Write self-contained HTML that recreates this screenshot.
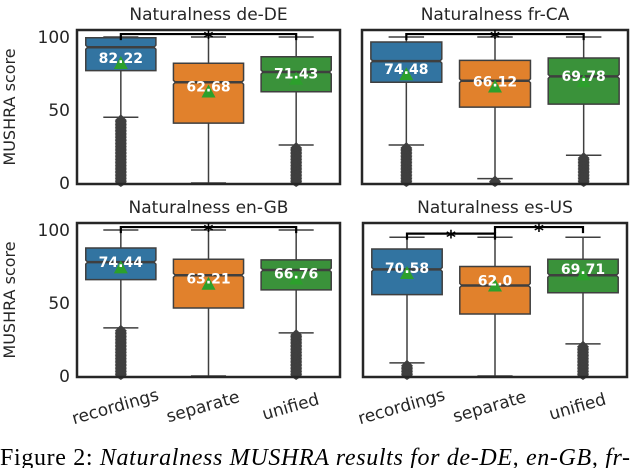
<!DOCTYPE html>
<html><head><meta charset="utf-8"><style>
html,body{margin:0;padding:0;background:#fff;width:630px;height:468px;overflow:hidden}
svg{display:block;font-family:"DejaVu Sans","Liberation Sans",sans-serif}
svg text.cap{font-family:"Liberation Serif","Times New Roman",serif}
</style></head><body>
<svg id="chart" width="630" height="468" viewBox="0 0 630 468"></svg>
<script>
const categories = ["recordings","separate","unified"];
const panelTitles = ["Naturalness de-DE","Naturalness fr-CA","Naturalness en-GB","Naturalness es-US"];
const yTicks = [0,50,100];
const q1Values = [[77,41,62.5],[69,52,54],[66,46.6,59],[55.7,42.5,57]];
const q3Values = [[99.5,82,86.5],[96.6,84,85.6],[87.7,80,79.5],[87,75,80]];
const medianValues = [[93,69,76],[83.5,70,73],[78,69,72.6],[73,62,69]];
const whiskerLow = [[45,0,26],[26,3,19],[33,0,29.5],[9,0,22]];
const whiskerHigh = [[100,100,100],[100,100,100],[100,100,100],[95,95,95]];
const meanValues = [[82.22,62.68,71.43],[74.48,66.12,69.78],[74.44,63.21,66.76],[70.58,62.0,69.71]];
const meanLabels = [["82.22","62.68","71.43"],["74.48","66.12","69.78"],["74.44","63.21","66.76"],["70.58","62.0","69.71"]];
const sigPanels = [0,1,2,3,3];
const sigFrom = [0,0,0,0,1];
const sigTo = [2,2,2,1,2];
const sigY = [102,102,102,97.5,102];

const colors = ["#3274a1","#e1812c","#3a923a"];
const frames = [{x0:77,x1:340,top:30,bot:184,y0:183,y100:37},
                {x0:362,x1:628,top:30,bot:184,y0:183,y100:37},
                {x0:77,x1:340,top:223,bot:377,y0:376,y100:230},
                {x0:363,x1:627,top:223,bot:377,y0:376,y100:230}];
const NS="http://www.w3.org/2000/svg";
const svg=document.getElementById('chart');
function mk(tag,attrs,parent){const e=document.createElementNS(NS,tag);for(const k in attrs)e.setAttribute(k,attrs[k]);(parent||svg).appendChild(e);return e;}

frames.forEach((f,p)=>{
  const g=mk('g',{});
  
  
  const ys=v=>f.y0-(f.y0-f.y100)*v/100;
  const step=(f.x1-f.x0)/categories.length;
  const xs=i=>f.x0+step*(i+0.5);
  const hw=step*0.4;
  const t=mk('text',{x:(f.x0+f.x1)/2,y:f.top-10,'text-anchor':'middle','font-size':17,fill:'#262626'},g);
  t.textContent=panelTitles[p];
  
  
  categories.forEach((c,i)=>{
    const cx=xs(i);
    mk('line',{x1:cx,x2:cx,y1:ys(q3Values[p][i]),y2:ys(whiskerHigh[p][i]),stroke:'#3f3f3f','stroke-width':1.5},g);
    mk('line',{x1:cx,x2:cx,y1:ys(q1Values[p][i]),y2:ys(whiskerLow[p][i]),stroke:'#3f3f3f','stroke-width':1.5},g);
    mk('line',{x1:cx-hw/2,x2:cx+hw/2,y1:ys(whiskerHigh[p][i]),y2:ys(whiskerHigh[p][i]),stroke:'#3f3f3f','stroke-width':1.5},g);
    mk('line',{x1:cx-hw/2,x2:cx+hw/2,y1:ys(whiskerLow[p][i]),y2:ys(whiskerLow[p][i]),stroke:'#3f3f3f','stroke-width':1.5},g);
    for(let v=0; v<whiskerLow[p][i]-1; v+=1){
      const yy=ys(v);
      mk('polygon',{points:`${cx},${yy-6} ${cx+6},${yy} ${cx},${yy+4} ${cx-6},${yy}`,fill:'#3f3f3f'},g);
    }
    const a=ys(q1Values[p][i]),b=ys(q3Values[p][i]),m=ys(medianValues[p][i]);
    const n=2,ind=2;
    const box=mk('polygon',{points:`${cx-hw},${a} ${cx-hw},${m+n} ${cx-hw+ind},${m} ${cx-hw},${m-n} ${cx-hw},${b} ${cx+hw},${b} ${cx+hw},${m-n} ${cx+hw-ind},${m} ${cx+hw},${m+n} ${cx+hw},${a}`,fill:colors[i],stroke:'#3f3f3f','stroke-width':1.5},g);
    
    
    mk('line',{x1:cx-hw+ind,x2:cx+hw-ind,y1:m,y2:m,stroke:'#3f3f3f','stroke-width':2.5},g);
    const my=ys(meanValues[p][i]);
    const tri=mk('polygon',{points:`${cx},${my-7} ${cx+7},${my+6} ${cx-7},${my+6}`,fill:'#2ca02c'},g);
    
    
    const lt=mk('text',{x:cx,y:ys(meanValues[p][i]+3.5)+5,'text-anchor':'middle','font-size':14,'font-weight':'bold',fill:'#fff'},g);
    lt.textContent=meanLabels[p][i];
    
    
    if(p>=2){
      const lx=cx-4, ly=f.bot+35;
      const xl=mk('text',{x:lx,y:ly,'text-anchor':'middle','font-size':17,fill:'#262626',transform:`rotate(-16 ${lx} ${ly})`},g);
      xl.textContent=c;
      
      
    }
  });
  const fr=mk('rect',{x:f.x0,y:f.top,width:f.x1-f.x0,height:f.bot-f.top,fill:'none',stroke:'#262626','stroke-width':2.5},g);
  
  
  if(p%2===0){
    yTicks.forEach(v=>{
      const tt=mk('text',{x:f.x0-7,y:ys(v)+6,'text-anchor':'end','font-size':17,fill:'#262626'},g);
      tt.textContent=v;
      
      
    });
    const yl=mk('text',{x:15,y:(f.top+f.bot)/2,'text-anchor':'middle','font-size':16,fill:'#262626',transform:`rotate(-90 15 ${(f.top+f.bot)/2})`},g);
    yl.textContent='MUSHRA score';
    
    
  }
  sigPanels.forEach((sp,k)=>{
    if(sp!==p)return;
    const xa=xs(sigFrom[k]),xb=xs(sigTo[k]),yy=ys(sigY[k]);
    const br=mk('polyline',{points:`${xa},${yy+6} ${xa},${yy} ${xb},${yy} ${xb},${yy+6}`,fill:'none',stroke:'#000','stroke-width':2.2},g);
    
    
    const st=mk('text',{x:(xa+xb)/2,y:yy+10,'text-anchor':'middle','font-size':19,'font-weight':'bold',fill:'#000'},g);
    st.textContent='*';
    
    
  });
});
const cap=mk('text',{x:0,y:465,'font-size':24,fill:'#000',textLength:630,lengthAdjust:'spacing','class':'cap'});


cap.innerHTML='Figure 2: <tspan font-style="italic">Naturalness MUSHRA results for de-DE, en-GB, fr-</tspan>';
</script>
</body></html>
